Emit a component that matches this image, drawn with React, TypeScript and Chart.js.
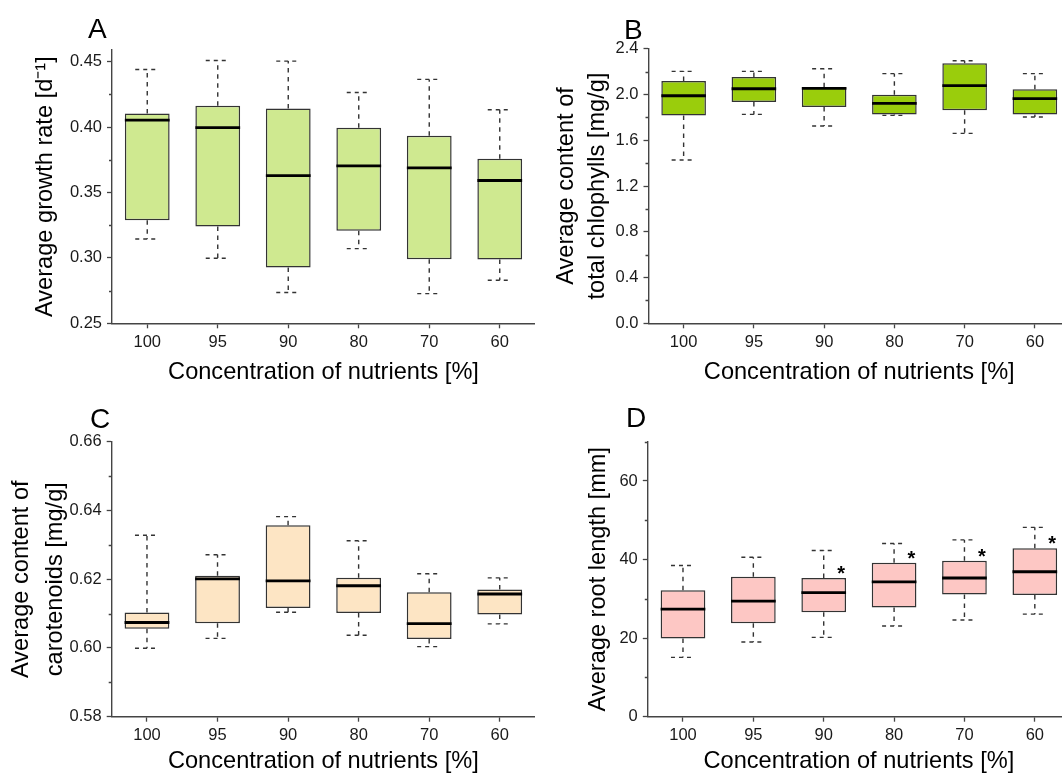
import React, { useEffect, useRef } from "react";
import { Chart, registerables } from "chart.js";

Chart.register(...registerables);

const FONT = "'Liberation Sans', Arial, Helvetica, sans-serif";

const categories = ["100", "95", "90", "80", "70", "60"];
const xTitle = "Concentration of nutrients [%]";

// Panel A: growth rate
const growthMin = [0.3145, 0.2997, 0.2735, 0.3071, 0.2727, 0.2829];
const growthQ1 = [0.3288, 0.324, 0.2926, 0.3207, 0.299, 0.2987];
const growthMedian = [0.4054, 0.3997, 0.363, 0.3704, 0.3689, 0.3592];
const growthQ3 = [0.4105, 0.4163, 0.4143, 0.3995, 0.3934, 0.3758];
const growthMax = [0.4441, 0.451, 0.4505, 0.4265, 0.4365, 0.4133];
const growthTicks = [0.25, 0.3, 0.35, 0.4, 0.45];
const growthMinorTicks = [0.275, 0.325, 0.375, 0.425];

// Panel B: total chlorophylls
const chlMin = [1.427, 1.826, 1.724, 1.817, 1.66, 1.803];
const chlQ1 = [1.817, 1.934, 1.89, 1.826, 1.861, 1.826];
const chlMedian = [1.989, 2.05, 2.053, 1.922, 2.077, 1.963];
const chlQ3 = [2.117, 2.152, 2.062, 1.998, 2.272, 2.045];
const chlMax = [2.202, 2.202, 2.225, 2.182, 2.295, 2.182];
const chlTicks = [0.0, 0.4, 0.8, 1.2, 1.6, 2.0, 2.4];
const chlMinorTicks = [0.2, 0.6, 1.0, 1.4, 1.8, 2.2];

// Panel C: carotenoids
const carMin = [0.5999, 0.6028, 0.6104, 0.6037, 0.6004, 0.607];
const carQ1 = [0.6056, 0.6072, 0.6116, 0.6102, 0.6026, 0.6097];
const carMedian = [0.6074, 0.6201, 0.6195, 0.6181, 0.6071, 0.6157];
const carQ3 = [0.6103, 0.621, 0.6357, 0.6204, 0.6162, 0.617];
const carMax = [0.6328, 0.6271, 0.6382, 0.6312, 0.6216, 0.6204];
const carTicks = [0.58, 0.6, 0.62, 0.64, 0.66];
const carMinorTicks = [0.59, 0.61, 0.63, 0.65];

// Panel D: root length
const rootMin = [15.1, 19.0, 20.2, 23.1, 24.6, 26.1];
const rootQ1 = [19.9, 23.8, 26.6, 27.8, 31.1, 31.0];
const rootMedian = [27.4, 29.4, 31.6, 34.3, 35.3, 36.9];
const rootQ3 = [32.2, 35.6, 35.3, 39.2, 39.7, 42.9];
const rootMax = [38.5, 40.6, 42.3, 44.1, 45.0, 48.2];
const rootSignificance = ["", "", "*", "*", "*", "*"];
const rootTicks = [0, 20, 40, 60];
const rootMinorTicks = [10, 30, 50, 70];

const AXIS = "#444444";
const TEXT = "#1a1a1a";

const boxPlugin = {
  id: "boxExtras",
  afterDatasetsDraw(chart: any) {
    const o = chart.options.plugins.boxExtras;
    const xs = chart.scales.x;
    const ys = chart.scales.y;
    const ctx = chart.ctx;
    const meta = chart.getDatasetMeta(0);
    ctx.save();
    for (let i = 0; i < o.med.length; i++) {
      const cx = xs.getPixelForValue(i);
      const half = meta.data[i].width / 2;
      const yMin = ys.getPixelForValue(o.min[i]);
      const yMax = ys.getPixelForValue(o.max[i]);
      const yQ1 = ys.getPixelForValue(o.q1[i]);
      const yQ3 = ys.getPixelForValue(o.q3[i]);
      const yMed = ys.getPixelForValue(o.med[i]);
      // whiskers
      ctx.strokeStyle = "#333333";
      ctx.lineWidth = 1.4;
      ctx.setLineDash([4.5, 4.5]);
      ctx.beginPath();
      ctx.moveTo(cx, yQ3);
      ctx.lineTo(cx, yMax);
      ctx.moveTo(cx, yQ1);
      ctx.lineTo(cx, yMin);
      ctx.stroke();
      ctx.setLineDash([4, 4]);
      ctx.beginPath();
      ctx.moveTo(cx - 12, yMax);
      ctx.lineTo(cx + 12, yMax);
      ctx.moveTo(cx - 12, yMin);
      ctx.lineTo(cx + 12, yMin);
      ctx.stroke();
      ctx.setLineDash([]);
      // median
      ctx.strokeStyle = "#000";
      ctx.lineWidth = 2.8;
      ctx.beginPath();
      ctx.moveTo(cx - half, yMed);
      ctx.lineTo(cx + half, yMed);
      ctx.stroke();
      // significance
      if (o.stars && o.stars[i]) {
        ctx.fillStyle = "#000";
        ctx.font = `bold 20px ${FONT}`;
        ctx.textAlign = "center";
        ctx.textBaseline = "middle";
        ctx.fillText(o.stars[i], cx + half - 5, yQ3 - 3.5);
      }
    }
    // minor ticks
    ctx.strokeStyle = AXIS;
    ctx.lineWidth = 1.3;
    ctx.beginPath();
    for (const v of o.minor) {
      const y = Math.round(ys.getPixelForValue(v)) + 0.5;
      ctx.moveTo(ys.right - 3, y);
      ctx.lineTo(ys.right, y);
    }
    ctx.stroke();
    // panel letter
    ctx.fillStyle = "#000";
    ctx.font = `28px ${FONT}`;
    ctx.textAlign = "left";
    ctx.textBaseline = "alphabetic";
    ctx.fillText(o.letter, o.letterX, o.letterY);
    ctx.restore();
  },
};

type PanelCfg = {
  x: number; y: number; w: number; h: number;
  yWidth: number; xHeight: number; padTop: number;
  min: number; max: number; majors: number[]; minors: number[]; decimals: number;
  yTitle: string | string[]; yTitleLH: number; yTitlePad: number; xTitlePad: number;
  fill: string;
  qMin: number[]; q1: number[]; med: number[]; q3: number[]; qMax: number[];
  stars?: string[];
  letter: string; letterX: number; letterY: number;
};

const panels: PanelCfg[] = [
  {
    x: 0, y: 0, w: 535, h: 390, yWidth: 112, xHeight: 66.7, padTop: 50,
    min: 0.25, max: 0.459, majors: growthTicks, minors: growthMinorTicks, decimals: 2,
    yTitle: "Average growth rate [d\u207B\u00B9]", yTitleLH: 28, yTitlePad: 31.5, xTitlePad: 3,
    fill: "#cfe990",
    qMin: growthMin, q1: growthQ1, med: growthMedian, q3: growthQ3, qMax: growthMax,
    letter: "A", letterX: 88, letterY: 38,
  },
  {
    x: 531, y: 0, w: 539, h: 390, yWidth: 117.5, xHeight: 66.7, padTop: 48.7,
    min: 0, max: 2.4, majors: chlTicks, minors: chlMinorTicks, decimals: 1,
    yTitle: ["Average content of", "total chlophylls [mg/g]"], yTitleLH: 31, yTitlePad: 19.5, xTitlePad: 3,
    fill: "#9acd0c",
    qMin: chlMin, q1: chlQ1, med: chlMedian, q3: chlQ3, qMax: chlMax,
    letter: "B", letterX: 93, letterY: 39,
  },
  {
    x: 0, y: 390, w: 535, h: 390, yWidth: 111.7, xHeight: 63.3, padTop: 51.7,
    min: 0.58, max: 0.66, majors: carTicks, minors: carMinorTicks, decimals: 2,
    yTitle: ["Average content of", "carotenoids [mg/g]"], yTitleLH: 34, yTitlePad: 4, xTitlePad: 4,
    fill: "#fde5c4",
    qMin: carMin, q1: carQ1, med: carMedian, q3: carQ3, qMax: carMax,
    letter: "C", letterX: 90, letterY: 38.3,
  },
  {
    x: 531, y: 390, w: 539, h: 390, yWidth: 116.8, xHeight: 63.3, padTop: 51.7,
    min: 0, max: 70, majors: rootTicks, minors: rootMinorTicks, decimals: 0,
    yTitle: "Average root length [mm]", yTitleLH: 28, yTitlePad: 53.5, xTitlePad: 4,
    fill: "#fdc7c4",
    qMin: rootMin, q1: rootQ1, med: rootMedian, q3: rootQ3, qMax: rootMax, stars: rootSignificance,
    letter: "D", letterX: 95, letterY: 36.7,
  },
];

function Panel({ cfg }: { cfg: PanelCfg }) {
  const ref = useRef<HTMLCanvasElement>(null);
  useEffect(() => {
    const chart = new Chart(ref.current!, {
      type: "bar",
      data: {
        labels: categories,
        datasets: [
          {
            data: cfg.q1.map((q, i) => [q, cfg.q3[i]]) as any,
            backgroundColor: cfg.fill,
            borderColor: "#333333",
            borderWidth: 1.5,
            borderSkipped: false,
            barPercentage: 0.635,
            categoryPercentage: 1,
          },
        ],
      },
      plugins: [boxPlugin],
      options: {
        responsive: false,
        animation: false,
        events: [],
        layout: { padding: { top: cfg.padTop, left: 0, right: 0, bottom: 0 } },
        plugins: {
          legend: { display: false },
          tooltip: { enabled: false },
          boxExtras: {
            min: cfg.qMin, q1: cfg.q1, med: cfg.med, q3: cfg.q3, max: cfg.qMax,
            stars: cfg.stars, minor: cfg.minors,
            letter: cfg.letter, letterX: cfg.letterX, letterY: cfg.letterY,
          },
        } as any,
        scales: {
          x: {
            offset: true,
            afterFit: (s: any) => { s.height = cfg.xHeight; },
            grid: {
              display: true, offset: false, drawOnChartArea: false, drawTicks: true,
              tickLength: 5, tickColor: AXIS, tickWidth: 1.3,
            },
            border: { display: true, color: AXIS, width: 1.4 },
            ticks: {
              font: { family: FONT, size: 16.5 }, color: TEXT, padding: 4,
              maxRotation: 0, autoSkip: false,
            },
            title: {
              display: true, text: xTitle, color: "#000",
              font: { family: FONT, size: 23.6, lineHeight: 1.2 },
              padding: { top: 0, bottom: cfg.xTitlePad },
            },
          },
          y: {
            min: cfg.min,
            max: cfg.max,
            afterBuildTicks: (s: any) => { s.ticks = cfg.majors.map((v) => ({ value: v })); },
            afterFit: (s: any) => { s.width = cfg.yWidth; },
            grid: {
              display: true, drawOnChartArea: false, drawTicks: true,
              tickLength: 5, tickColor: AXIS, tickWidth: 1.3,
            },
            border: { display: true, color: AXIS, width: 1.4 },
            ticks: {
              font: { family: FONT, size: 16.5 }, color: TEXT, padding: 5,
              callback: (v: any) => Number(v).toFixed(cfg.decimals),
            },
            title: {
              display: true, text: cfg.yTitle as any, color: "#000",
              font: { family: FONT, size: 23.6, lineHeight: `${cfg.yTitleLH}px` as any },
              padding: { top: cfg.yTitlePad, bottom: 0 },
            },
          },
        },
      },
    });
    return () => chart.destroy();
  }, [cfg]);
  return (
    <canvas
      ref={ref}
      width={cfg.w}
      height={cfg.h}
      style={{ position: "absolute", left: cfg.x, top: cfg.y, width: cfg.w, height: cfg.h }}
    />
  );
}

export default function App() {
  return (
    <div
      style={{
        position: "fixed", left: 0, top: 0, width: 1062, height: 775,
        overflow: "hidden", background: "#fff",
      }}
    >
      {panels.map((p) => (
        <Panel key={p.letter} cfg={p} />
      ))}
    </div>
  );
}
